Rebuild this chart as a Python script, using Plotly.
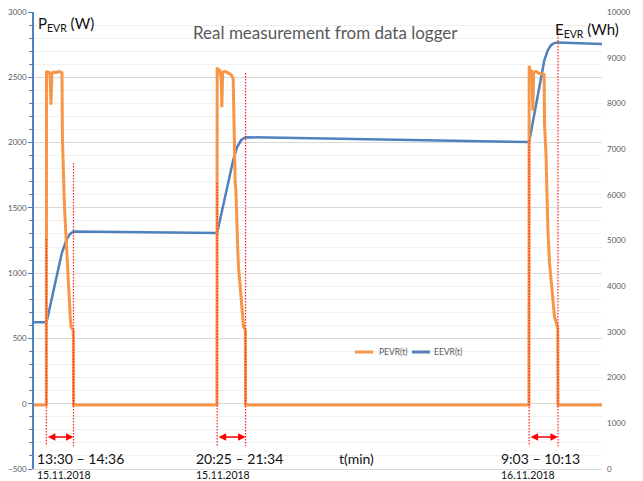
import plotly.graph_objects as go

# Time axis: minutes since 13:00 on 15.11.2018
p_time = [0, 30, 30.5, 33.4, 35.6, 39, 41.2, 43.4, 46.8, 53.5, 60.2, 68, 69.1, 71.4,
          73.5, 75.2, 77.0, 78.8, 80.5, 82.6, 84.5, 86.4, 88.2, 90, 93, 95.5, 96,
          444.5, 445, 447.4, 451, 454.7, 456.4, 458.4, 464.4, 471.7, 479, 483.9, 485,
          488.7, 490.5, 492.9, 494.8, 496.8, 500.9, 503, 505, 509, 512, 513.5, 514,
          1202.5, 1203, 1205.4, 1208, 1210.3, 1212, 1214, 1220, 1227.3, 1234.6, 1239.5,
          1240.2, 1244.4, 1246, 1248.5, 1252.4, 1256.5, 1260.6, 1264.5, 1268.7, 1271,
          1272.5, 1273, 1380]
p_watt = [-10, -10, 2550, 2530, 2545, 2520, 2290, 2530, 2540, 2535, 2545, 2535, 2040, 1700,
          1560, 1435, 1320, 1180, 1090, 930, 860, 745, 660, 590, 575, 560, -10,
          -10, 2576, 2540, 2550, 2500, 2270, 2540, 2545, 2530, 2520, 2490, 2206,
          1696, 1640, 1312, 1200, 1052, 875, 800, 721, 590, 575, 560, -10,
          -10, 2589, 2540, 2545, 2480, 2243, 2540, 2545, 2530, 2525, 2520,
          2154, 1872, 1642, 1335, 1082, 928, 821, 668, 622, 600,
          580, -10, -10]

e_time = [0, 30.5, 67.6, 78.8, 87, 96, 445, 484, 493.6, 503.4, 513, 514,
          1203, 1240, 1248.5, 1256.5, 1264, 1273, 1380]
e_wh = [3210, 3210, 4726, 5011, 5140, 5195, 5165, 6761, 7046, 7199, 7254, 7260,
        7155, 8950, 9168, 9278, 9320, 9335, 9300]

# Charging sessions: (start, end) in minutes, label and date
sessions = [(30, 96), (445, 514), (1203, 1273)]
session_labels = ["13:30 – 14:36", "20:25 – 21:34", "9:03 – 10:13"]
session_dates = ["15.11.2018", "15.11.2018", "16.11.2018"]
# top of the dotted marker lines (W, on power axis)
marker_tops = [(1261, 1844), (1690, 2533), (2020, 2877)]

series_names = ["PEVR(t)", "EEVR(t)"]

W, H = 643, 481
L, R, T, B = 34, 602, 12, 469


def px_x(p):
    return (p - L) / (R - L)


def px_y(p):
    return (B - p) / (B - T)


FONT = "Lato"
GREY = "#595959"
ORANGE = "#F79646"
BLUE = "#4F81BD"
RED = "#FF2020"
colors = [ORANGE, BLUE]

fig = go.Figure()
fig.add_trace(go.Scatter(x=p_time, y=p_watt, mode="lines", name=series_names[0],
                         line=dict(color=ORANGE, width=3), yaxis="y2", showlegend=False))
fig.add_trace(go.Scatter(x=e_time, y=e_wh, mode="lines", name=series_names[1],
                         line=dict(color=BLUE, width=2.5), yaxis="y", showlegend=False))

shapes = []
annotations = []
for (s, e), (top_s, top_e) in zip(sessions, marker_tops):
    for xv, top in ((s, top_s), (e, top_e)):
        shapes.append(dict(type="line", xref="x", yref="y2", x0=xv, x1=xv,
                           y0=top, y1=-325,
                           line=dict(color=RED, width=1.2, dash="1.5px,1.5px")))
    annotations.append(dict(x=e, y=-255, ax=s, ay=-255, xref="x", yref="y2",
                            axref="x", ayref="y2", text="", showarrow=True,
                            arrowside="end+start", arrowhead=2, arrowsize=1,
                            arrowwidth=1.5, arrowcolor="#FF0000",
                            startarrowhead=2, startarrowsize=1))

label_x = [36, 195, 500]
for lx, lab, dt in zip(label_x, session_labels, session_dates):
    annotations.append(dict(x=px_x(lx), y=px_y(467.5), xref="paper", yref="paper",
                            xanchor="left", yanchor="bottom", showarrow=False, text=lab,
                            borderpad=0,
                            font=dict(family=FONT, size=14, color="#111111")))
    annotations.append(dict(x=px_x(lx), y=px_y(467.5), xref="paper", yref="paper",
                            xanchor="left", yanchor="top", showarrow=False, text=dt,
                            borderpad=0,
                            font=dict(family=FONT, size=10.5, color="#111111")))

# Legend keys drawn as short line samples with labels
legend_keys = [(355, 373, 377), (412, 430, 432)]
for (x0, x1, tx), name, col in zip(legend_keys, series_names, colors):
    shapes.append(dict(type="line", xref="paper", yref="paper", x0=px_x(x0), x1=px_x(x1),
                       y0=px_y(352), y1=px_y(352), line=dict(color=col, width=3)))
    annotations.append(dict(x=px_x(tx), y=px_y(352), xref="paper", yref="paper",
                            xanchor="left", yanchor="middle", showarrow=False, text=name,
                            font=dict(family=FONT, size=8.5, color=GREY)))

annotations += [
    dict(x=px_x(338), y=px_y(467.5), xref="paper", yref="paper", xanchor="left",
         yanchor="bottom", showarrow=False, text="t(min)", borderpad=0,
         font=dict(family=FONT, size=14, color="#111111")),
    dict(x=px_x(325), y=px_y(33), xref="paper", yref="paper", xanchor="center",
         yanchor="middle", showarrow=False, text="Real measurement from data logger",
         font=dict(family=FONT, size=17, color=GREY)),
    dict(x=px_x(36), y=px_y(24), xref="paper", yref="paper", xanchor="left",
         yanchor="middle", showarrow=False, text="P<sub>EVR</sub> (W)",
         font=dict(family=FONT, size=15, color="#111111")),
    dict(x=px_x(553), y=px_y(30), xref="paper", yref="paper", xanchor="left",
         yanchor="middle", showarrow=False, text="E<sub>EVR</sub> (Wh)",
         font=dict(family=FONT, size=15, color="#111111")),
]

fig.update_layout(
    width=W, height=H,
    margin=dict(l=L, r=W - R, t=T, b=H - B, autoexpand=False),
    paper_bgcolor="white", plot_bgcolor="white",
    font=dict(family=FONT, color=GREY),
    showlegend=False,
    xaxis=dict(range=[0, 1380], showticklabels=False, ticks="", showgrid=False,
               zeroline=False, showline=True, linecolor="#d9d9d9", linewidth=1,
               automargin=False),
    yaxis=dict(side="right", range=[0, 10000], dtick=1000, tickformat="d",
               showgrid=False, zeroline=False, showline=False, ticks="",
               ticklabelstandoff=4, automargin=False,
               tickfont=dict(family=FONT, size=8, color=GREY)),
    yaxis2=dict(side="left", overlaying="y", range=[-500, 3000], dtick=500,
                tickformat="d", automargin=False,
                showgrid=True, gridcolor="#d9d9d9", gridwidth=1, zeroline=False,
                showline=True, linecolor=BLUE, linewidth=1.5,
                ticks="outside", ticklen=4, tickcolor=BLUE,
                minor=dict(dtick=100, showgrid=True, gridcolor="#f0f0f0",
                           ticks="outside", ticklen=3, tickcolor=BLUE),
                tickfont=dict(family=FONT, size=8, color=GREY)),
    shapes=shapes,
    annotations=annotations,
)

fig.write_html("out.html")
